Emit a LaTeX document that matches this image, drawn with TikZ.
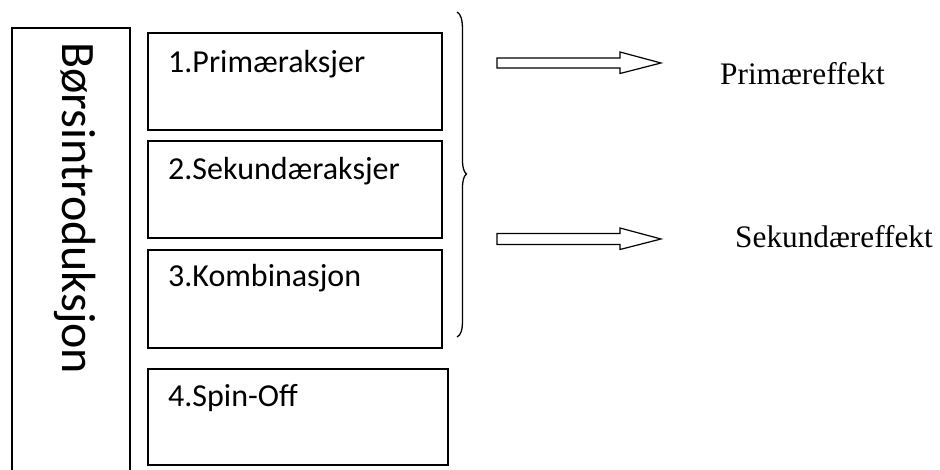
\documentclass[tikz,border=0pt]{standalone}
\usepackage{fontspec}
\setmainfont{Carlito}
\newfontfamily\tnr{Liberation Serif}
\begin{document}
\begin{tikzpicture}[x=1pt,y=-1pt,
  box/.style={draw, line width=1.8pt, inner sep=0pt, anchor=north west},
  lbl/.style={inner sep=0pt, anchor=base west, font=\fontsize{32}{33}\selectfont},
  eff/.style={inner sep=0pt, anchor=base west, font=\tnr\fontsize{31.3}{32}\selectfont},
  blk/.style={draw, line width=1.2pt, line join=miter},
  brc/.style={draw, line width=1.3pt}
]
\useasboundingbox (0,0) rectangle (940,470);
\node[box, minimum width=118pt, minimum height=470pt] (main) at (11,27) {};
\node[inner sep=0pt, rotate=-90, anchor=base west, font=\fontsize{48}{48}\selectfont] (title) at (62,42) {Børsintroduksjon};

\node[box, minimum width=294pt, minimum height=97pt] (b1) at (147,32) {};
\node[box, minimum width=294pt, minimum height=97pt] (b2) at (147,140) {};
\node[box, minimum width=294pt, minimum height=98pt] (b3) at (147,249) {};
\node[box, minimum width=300pt, minimum height=96pt] (b4) at (147,368) {};

\node[lbl] (t1) at (168,73) {1.Primæraksjer};
\node[lbl] (t2) at (168,180) {2.Sekundæraksjer};
\node[lbl] (t3) at (168,287) {3.Kombinasjon};
\node[lbl] (t4) at (168,406) {4.Spin-Off};

\path[brc] (457,12) .. controls (461,14) and (462.5,20) .. (462.5,30) -- (462.5,160)
  .. controls (462.5,168) and (464,172) .. (466.5,174)
  .. controls (464,176) and (462.5,180) .. (462.5,188) -- (462.5,320)
  .. controls (462.5,330) and (461,335) .. (457,337);

\coordinate (a1) at (497,63);
\coordinate (a2) at (497,239);
\path[blk] (a1) ++(0,-5) -- ++(123,0) -- ++(0,-6) -- ++(41,11) -- ++(-41,10.5) -- ++(0,-5.5) -- ++(-123,0) -- cycle;
\path[blk] (a2) ++(0,-5.5) -- ++(123,0) -- ++(0,-5.5) -- ++(41,11) -- ++(-41,10.5) -- ++(0,-5) -- ++(-123,0) -- cycle;

\node[eff] (pe) at (720,85) {Primæreffekt};
\node[eff] (se) at (735,248) {Sekundæreffekt};
\end{tikzpicture}
\end{document}
